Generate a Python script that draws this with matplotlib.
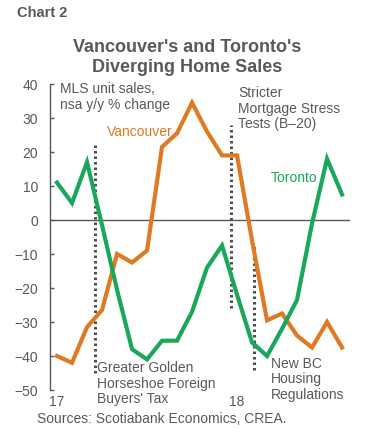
import matplotlib.pyplot as plt

plt.rcParams['font.family'] = ['Liberation Sans', 'DejaVu Sans']

# monthly, Jan 2017 .. Aug 2018
months = list(range(20))
toronto = [11, 5, 17, -1.5, -20.5, -38, -41, -35.5, -35.5, -27,
           -14, -7.5, -22, -36, -40, -32, -23.5, -1, 18, 7.5]
vancouver = [-40, -42, -31.5, -26.5, -10, -12.5, -9, 21.5, 25.5, 34.5,
             26, 19, 19, -6, -29.5, -27.5, -34, -37.5, -30, -37.5]
year_labels = ['17', '18']
year_pos = [0, 12]

# policy markers: (x position in months, y top, y bottom)
events = [(2.5, 23, -45), (11.6, 28, -26), (13.1, -7, -44)]

grey = '#595959'
orange = '#DF7A22'
green = '#1BA75B'

fig = plt.figure(figsize=(3.87, 4.37), dpi=100)
ax = fig.add_axes([50/387, 47/437, 300/387, 306/437])

ax.plot(months, vancouver, color=orange, lw=3, solid_joinstyle='miter', zorder=3)
ax.plot(months, toronto, color=green, lw=3, solid_joinstyle='miter', zorder=3)

for x, y0, y1 in events:
    ax.plot([x, x], [y1, y0], color='#4d4d4d', lw=2.2, linestyle=(0, (0.8, 1.0)), zorder=2)

ax.axhline(0, color=grey, lw=1, zorder=1)

ax.set_xlim(-0.467, 19.53)
ax.set_ylim(-50, 40)
ax.set_yticks(range(-50, 41, 10))
ax.set_xticks([])
for s in ['top', 'right', 'bottom']:
    ax.spines[s].set_visible(False)
ax.spines['left'].set_color(grey)
ax.spines['left'].set_linewidth(1)
ax.tick_params(axis='y', direction='in', length=3, width=1, color=grey,
               labelcolor=grey, labelsize=10, pad=8.5)

for lbl, p in zip(year_labels, year_pos):
    ax.text(p, -53.4, lbl, ha='center', va='center', fontsize=10, color=grey, clip_on=False)

ax.text(0.2, 40.6, 'MLS unit sales,\nnsa y/y % change', ha='left', va='top',
        fontsize=10, color=grey, linespacing=1.15)
ax.text(3.33, 25.9, 'Vancouver', ha='left', va='center', fontsize=10, color=orange)
ax.text(14.27, 12.4, 'Toronto', ha='left', va='center', fontsize=10, color=green)
ax.text(12.07, 39.4, 'Stricter\nMortgage Stress\nTests (B\u201320)', ha='left', va='top',
        fontsize=10, color=grey, linespacing=1.15)
ax.text(2.67, -41.6, "Greater Golden\nHorseshoe Foreign\nBuyers' Tax", ha='left', va='top',
        fontsize=10, color=grey, linespacing=1.1, clip_on=False)
ax.text(14.27, -40.4, 'New BC\nHousing\nRegulations', ha='left', va='top',
        fontsize=10, color=grey, linespacing=1.1, clip_on=False)

fig.text(17/387, 1 - 13/437, 'Chart 2', ha='left', va='center', fontsize=10.5,
         fontweight='bold', color=grey)
fig.text(187/387, 1 - 57.5/437, "Vancouver's and Toronto's\nDiverging Home Sales",
         ha='center', va='center', fontsize=13, fontweight='bold', color=grey,
         linespacing=1.2)
fig.text(37/387, 1 - 419/437, 'Sources: Scotiabank Economics, CREA.', ha='left',
         va='center', fontsize=10, color=grey)

fig.savefig('out.png', dpi=100, facecolor='white')
